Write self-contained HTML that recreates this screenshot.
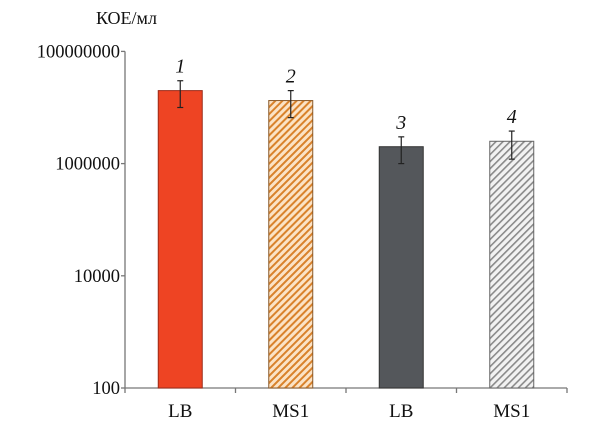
<!DOCTYPE html>
<html><head><meta charset="utf-8"><style>
body{margin:0;background:#fff}
svg text{font-family:"Liberation Serif","DejaVu Serif",serif;fill:#111}
</style></head><body>
<svg id="chart" width="614" height="440" xmlns="http://www.w3.org/2000/svg">
<defs>
<pattern id="hatchOrange" patternUnits="userSpaceOnUse" width="5" height="5" patternTransform="rotate(45)">
<rect width="5" height="5" fill="#fbe3c6"/><rect width="2" height="5" fill="#d9822b"/></pattern>
<pattern id="hatchGray" patternUnits="userSpaceOnUse" width="5" height="5" patternTransform="rotate(45)">
<rect width="5" height="5" fill="#f2f2f2"/><rect width="1.6" height="5" fill="#8a8a8a"/></pattern>
</defs>
<g id="axes"></g><g id="bars"></g>
</svg>
<script>
const categories = ["LB","MS1","LB","MS1"];
const barNumbers = ["1","2","3","4"];
const values = [2.0e7, 1.33e7, 2.0e6, 2.5e6];
const errors = [1.0e7, 0.67e7, 1.0e6, 1.3e6];
const tickValues = [100, 10000, 1000000, 100000000];
const tickLabels = ["100","10000","1000000","100000000"];
const fills = ["#ee4423","url(#hatchOrange)","#54575b","url(#hatchGray)"];
const strokes = ["#9c2a18","#8a5a2a","#333","#666"];

const NS="http://www.w3.org/2000/svg";
const x0=125,x1=567,yBase=388,pxPerDec=56.1,logMin=2;
function y(v){return yBase-(Math.log10(v)-logMin)*pxPerDec;}
const band=(x1-x0)/categories.length;
function xc(i){return x0+band*(i+0.5);}
function mk(tag,attrs,parent,text){const e=document.createElementNS(NS,tag);for(const k in attrs)e.setAttribute(k,attrs[k]);if(text!==undefined)e.textContent=text;parent.appendChild(e);return e;}
const axes=document.getElementById('axes'),bars=document.getElementById('bars');

let e=mk('line',{x1:x0,y1:y(1e8),x2:x0,y2:yBase,stroke:'#777','stroke-width':1.3},axes);


e=mk('line',{x1:x0,y1:yBase,x2:x1,y2:yBase,stroke:'#777','stroke-width':1.3},axes);


tickValues.forEach((v,i)=>{
  let t=mk('line',{x1:x0-4,y1:y(v),x2:x0,y2:y(v),stroke:'#777','stroke-width':1.3},axes);
  
  
  let l=mk('text',{x:x0-5,y:y(v)+6,'text-anchor':'end','font-size':18.5},axes,tickLabels[i]);
  
  
});
for(let i=0;i<=categories.length;i++){
  let t=mk('line',{x1:x0+band*i,y1:yBase,x2:x0+band*i,y2:yBase+5,stroke:'#777','stroke-width':1.3},axes);
  
  
}
let yt=mk('text',{x:96,y:24,'font-size':18},axes,'КОЕ/мл');



const bw=44;
categories.forEach((c,i)=>{
  const cx=xc(i),top=y(values[i]);
  let r=mk('rect',{x:cx-bw/2,y:top,width:bw,height:yBase-top,fill:fills[i],stroke:strokes[i],'stroke-width':1},bars);
  
  
  const yu=y(values[i]+errors[i]),yl=y(values[i]-errors[i]);
  let g=mk('g',{stroke:'#222','stroke-width':1.2},bars);
  
  
  mk('line',{x1:cx,y1:yu,x2:cx,y2:yl},g);
  mk('line',{x1:cx-3,y1:yu,x2:cx+3,y2:yu},g);
  mk('line',{x1:cx-3,y1:yl,x2:cx+3,y2:yl},g);
  let n=mk('text',{x:cx,y:yu-8,'text-anchor':'middle','font-size':20,'font-style':'italic'},bars,barNumbers[i]);
  
  
  let l=mk('text',{x:cx,y:417,'text-anchor':'middle','font-size':19},bars,c);
  
  
});
</script>
</body></html>
